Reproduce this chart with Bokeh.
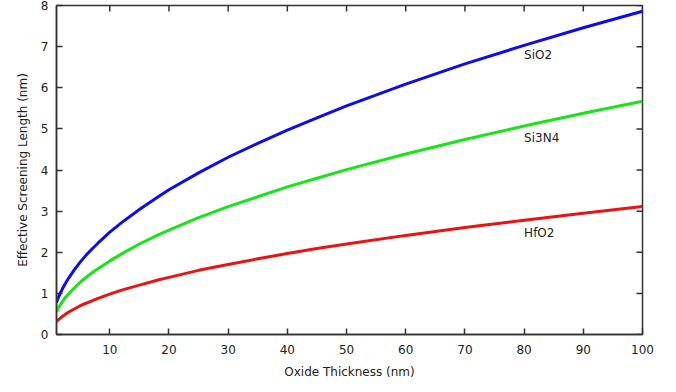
import math
from bokeh.plotting import figure
from bokeh.models import Range1d, FixedTicker, Label
from bokeh.embed import file_html
from bokeh.resources import INLINE

thickness = [1, 1.25, 1.5, 2, 2.5, 3, 4, 5, 6, 7, 8, 10, 12, 15, 18, 20, 25, 30, 35, 40, 45, 50, 60, 70, 80, 90, 100]
sio2 = [0.78, 0.88, 0.96, 1.11, 1.24, 1.36, 1.57, 1.76, 1.93, 2.08, 2.22, 2.49, 2.72, 3.04, 3.33, 3.52, 3.93, 4.31, 4.65, 4.97, 5.27, 5.56, 6.09, 6.58, 7.03, 7.46, 7.86]
si3n4 = [0.55, 0.63, 0.69, 0.80, 0.90, 0.98, 1.13, 1.27, 1.39, 1.50, 1.60, 1.79, 1.96, 2.20, 2.41, 2.54, 2.84, 3.11, 3.35, 3.59, 3.80, 4.01, 4.39, 4.74, 5.07, 5.38, 5.67]
hfo2 = [0.31, 0.35, 0.38, 0.44, 0.49, 0.54, 0.62, 0.70, 0.76, 0.82, 0.88, 0.98, 1.08, 1.20, 1.32, 1.39, 1.56, 1.70, 1.84, 1.97, 2.09, 2.20, 2.41, 2.60, 2.78, 2.95, 3.11]
x_ticks = [10, 20, 30, 40, 50, 60, 70, 80, 90, 100]
y_ticks = [0, 1, 2, 3, 4, 5, 6, 7, 8]
series_names = ["SiO2", "Si3N4", "HfO2"]
label_pos = [(80, 6.79), (80, 4.79), (80, 2.48)]
colors = ["#0c0cec", "#16e616", "#ec1212"]

FONT = "DejaVu Sans"
AX = "#333333"
X_MIN, X_MAX, Y_MIN, Y_MAX = 1, 100, 0, 8

p = figure(width=676, height=392, output_backend="svg", toolbar_location=None,
           x_range=Range1d(X_MIN, X_MAX), y_range=Range1d(Y_MIN, Y_MAX),
           min_border_left=56, min_border_right=34, min_border_top=5, min_border_bottom=58)
p.xgrid.visible = False
p.ygrid.visible = False
p.outline_line_color = AX
p.outline_line_width = 1.5

for ax in (p.xaxis[0], p.yaxis[0]):
    ax.major_tick_in = 6
    ax.major_tick_out = 0
    ax.minor_tick_in = 0
    ax.minor_tick_out = 0
    ax.axis_line_color = AX
    ax.axis_line_width = 1.5
    ax.major_tick_line_color = AX
    ax.major_tick_line_width = 1.5
    ax.major_label_text_font = FONT
    ax.major_label_text_font_size = "12px"
    ax.major_label_text_color = "#222222"
    ax.axis_label_text_font = FONT
    ax.axis_label_text_font_size = "12px"
    ax.axis_label_text_font_style = "normal"
    ax.axis_label_text_color = "#222222"

p.xaxis[0].ticker = FixedTicker(ticks=x_ticks)
p.yaxis[0].ticker = FixedTicker(ticks=y_ticks)
p.xaxis[0].axis_label = "Oxide Thickness (nm)"
p.yaxis[0].axis_label = "Effective Screening Length (nm)"
p.xaxis[0].major_label_standoff = 10
p.xaxis[0].axis_label_standoff = 8
p.yaxis[0].major_label_standoff = 8
p.yaxis[0].axis_label_standoff = 8

# mirrored inward ticks on top and right edges
p.ray(x=x_ticks, y=[Y_MAX] * len(x_ticks), length=6, length_units="screen",
      angle=-math.pi / 2, line_color=AX, line_width=1.5)
p.ray(x=[X_MAX] * len(y_ticks), y=y_ticks, length=6, length_units="screen",
      angle=math.pi, line_color=AX, line_width=1.5)

for ys, c in zip([sio2, si3n4, hfo2], colors):
    p.line(thickness, ys, line_color=c, line_width=3)

for name, (lx, ly) in zip(series_names, label_pos):
    p.add_layout(Label(x=lx, y=ly, text=name, text_font=FONT, text_font_size="12px",
                       text_color="#222222", text_baseline="middle", text_align="left"))

open("out.html", "w").write(file_html(p, INLINE))
